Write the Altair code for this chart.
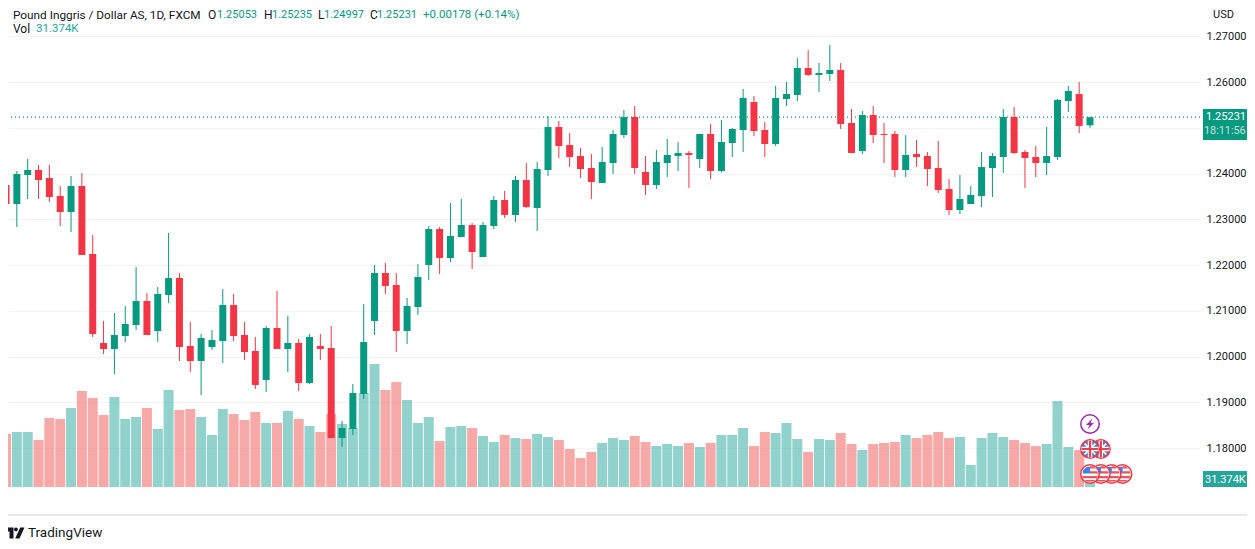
import altair as alt
import pandas as pd

UP = "#089981"
DOWN = "#F23645"
VOL_UP = "#26a69a"
VOL_DOWN = "#ef5350"
FONT = "Roboto"
INK = "#131722"

opens = [1.23749,1.23334,1.23968,1.24077,1.23902,1.23509,1.23159,1.23727,1.22241,1.20296,1.20165,1.20449,1.20689,1.21214,1.20558,1.21345,1.21716,1.20230,1.19902,1.20208,1.20339,1.21126,1.20471,1.20121,1.19487,1.20624,1.20165,1.20296,1.19421,1.20230,
1.20186,1.18219,1.18416,1.19181,1.20777,1.21826,1.21563,1.20558,1.21083,1.22001,1.22788,1.22154,1.22613,1.22875,1.22175,1.22853,1.23421,1.23094,1.23859,1.23247,
1.24077,1.25017,1.24624,1.24383,1.24121,1.23793,1.24230,1.24842,1.25236,1.24033,1.23749,1.24230,1.24383,1.24449,1.24318,1.24864,1.24055,1.24667,1.24951,1.25563,
1.24951,1.24645,1.25629,1.25716,1.26307,1.26154,1.26176,1.26263,1.25104,1.24492,1.25279,1.24864,1.24864,1.24077,1.24427,1.24383,1.24121,1.23662,1.23203,1.23334,
1.23509,1.24121,1.24361,1.25236,1.24471,1.24361,1.24230,1.24361,1.25585,1.25738,1.25053]
highs = [1.24143,1.24055,1.24318,1.24186,1.24186,1.23727,1.23946,1.24012,1.22656,1.20777,1.20951,1.21104,1.21957,1.21389,1.21520,1.22700,1.21826,1.20755,1.20492,1.20580,1.21476,1.21367,1.20755,1.20427,1.20667,1.21432,1.20886,1.20383,1.20492,1.20492,
1.20667,1.18591,1.19400,1.21148,1.22001,1.22044,1.21826,1.21279,1.22022,1.22853,1.22831,1.23356,1.23443,1.22919,1.22941,1.23509,1.23618,1.23946,1.24230,1.24252,
1.25257,1.25148,1.24886,1.24558,1.24427,1.24580,1.24951,1.25389,1.25476,1.24383,1.24514,1.24755,1.24689,1.24492,1.24864,1.25083,1.25170,1.24995,1.25848,1.25695,
1.25126,1.25913,1.26001,1.26525,1.26700,1.26416,1.26809,1.26416,1.25410,1.25367,1.25476,1.25104,1.24930,1.24842,1.24733,1.24471,1.24711,1.23880,1.23968,1.23727,
1.24471,1.24449,1.25410,1.25454,1.24514,1.24602,1.25017,1.25629,1.25913,1.26001,1.25235]
lows = [1.22635,1.22831,1.23443,1.23443,1.23378,1.22853,1.22722,1.22219,1.20427,1.20055,1.19618,1.20318,1.20580,1.20471,1.20318,1.21170,1.19902,1.19662,1.19159,1.20143,1.19859,1.20339,1.19924,1.19290,1.19225,1.20165,1.19662,1.19247,1.19400,1.19924,
1.18219,1.18022,1.18285,1.19072,1.20471,1.21367,1.20099,1.20274,1.20908,1.21673,1.21804,1.22066,1.22613,1.21913,1.22175,1.22788,1.23028,1.22941,1.23247,1.22744,
1.23946,1.24339,1.24143,1.23902,1.23443,1.23793,1.23990,1.24777,1.23990,1.23531,1.23662,1.23924,1.24055,1.23684,1.24121,1.23880,1.24033,1.24361,1.24471,1.24820,
1.24361,1.24602,1.25476,1.25585,1.26132,1.25782,1.26023,1.24973,1.24449,1.24427,1.24667,1.24230,1.23924,1.23924,1.24143,1.23727,1.23574,1.23094,1.23115,1.23334,
1.23268,1.23487,1.24012,1.24427,1.23684,1.23924,1.23968,1.24296,1.25345,1.24886,1.24997]
closes = [1.23334,1.23990,1.24077,1.23859,1.23487,1.23159,1.23727,1.22219,1.20492,1.20165,1.20471,1.20711,1.21214,1.20471,1.21367,1.21716,1.20208,1.19902,1.20405,1.20361,1.21126,1.20449,1.20099,1.19378,1.20624,1.20165,1.20296,1.19421,1.20427,1.20165,
1.18219,1.18438,1.19203,1.20318,1.21826,1.21542,1.20558,1.21104,1.21738,1.22788,1.22154,1.22635,1.22875,1.22285,1.22875,1.23421,1.23094,1.23859,1.23268,1.24099,
1.25017,1.24602,1.24361,1.24099,1.23815,1.24252,1.24864,1.25236,1.24121,1.23749,1.24252,1.24405,1.24449,1.24405,1.24864,1.24055,1.24689,1.24973,1.25651,1.24930,
1.24645,1.25651,1.25738,1.26307,1.26154,1.26197,1.26263,1.25083,1.24449,1.25279,1.24842,1.24842,1.24077,1.24405,1.24361,1.24099,1.23640,1.23203,1.23443,1.23531,
1.24143,1.24383,1.25236,1.24449,1.24339,1.24230,1.24383,1.25607,1.25804,1.25039,1.25231]
volumes_k = [424,440,440,376,552,544,632,768,712,576,720,544,560,632,464,776,616,624,560,416,624,584,536,600,512,512,608,544,488,440,
584,504,472,752,984,776,840,696,512,560,368,480,488,472,408,360,416,392,384,424,400,376,304,232,280,352,392,376,408,360,
328,344,328,352,320,352,416,416,472,328,440,432,512,384,280,384,376,432,344,296,344,352,360,416,392,416,440,392,400,176,
392,432,400,376,352,328,344,688,320,296,31.374]

price_ticks = [1.18,1.19,1.20,1.21,1.22,1.23,1.24,1.25,1.26,1.27]
date_ticks = [6,15,26,35,49,59,69,79,92,104]
date_labels = ["Feb","13","Mar","13","Apr","17","Mei","15","Jun","19"]
month_ticks = [6,26,49,69,92]
last_close = closes[-1]
ticker = "Pound Inggris / Dollar AS, 1D, FXCM"
ohlc_letters = ["O","H","L","C"]
ohlc_values = ["1.25053","1.25235","1.24997","1.25231"]
change_text = "+0.00178 (+0.14%)"
event_lightning = [(100, 1.18525)]
event_uk = [(101, 1.17979), (100, 1.17979)]
event_us = [(103, 1.17432), (102, 1.17432), (101, 1.17432), (100, 1.17432)]

df = pd.DataFrame({"i": range(len(opens)), "open": opens, "high": highs, "low": lows,
                   "close": closes, "vol": volumes_k})

W, H = 1192, 479
x_scale = alt.Scale(domain=[0.1845, 110.148], nice=False, zero=False, padding=0)
price_scale = alt.Scale(domain=[1.17148, 1.27618], nice=False, zero=False)
vol_scale = alt.Scale(domain=[0, 3832], nice=False, zero=True)
X = alt.X("i:Q", scale=x_scale, axis=None)
dir_color = lambda up, down: alt.condition("datum.close >= datum.open", alt.value(up), alt.value(down))
one = alt.Data(values=[{"a": 1}])

label_map = "{" + ",".join(f"{p}:'{l}'" for p, l in zip(date_ticks, date_labels)) + "}"
x_axis = alt.Axis(values=date_ticks, labelExpr=f"{label_map}[datum.value]", title=None, ticks=False,
                  grid=True, gridColor="#f0f3fa", gridWidth=1, domainColor="#e0e3eb", domainWidth=1.5,
                  labelFont=FONT, labelFontSize=12, labelColor=INK, labelPadding=7, labelOverlap=False,
                  labelFontWeight={"condition": {"test": f"indexof({month_ticks}, datum.value) >= 0", "value": 600}, "value": 400})
y_axis = alt.Axis(values=price_ticks, labelExpr="abs(datum.value - 1.25) < 0.001 ? '' : format(datum.value, '.5f')",
                  orient="right", title=None, ticks=False, domain=False,
                  grid=True, gridColor="#f0f3fa", gridWidth=1, labelFont=FONT, labelFontSize=11,
                  labelColor=INK, labelPadding=6, labelOverlap=False)

layers = []
# axes + grid
layers.append(alt.Chart(df).mark_point(opacity=0).encode(
    x=alt.X("i:Q", scale=x_scale, axis=x_axis),
    y=alt.Y("close:Q", scale=price_scale, axis=y_axis)))
# volume
layers.append(alt.Chart(df).mark_bar(size=10, opacity=0.5, clip=True, orient="vertical").encode(
    x=X, y=alt.Y("vol:Q", scale=vol_scale, axis=None), color=dir_color(VOL_UP, VOL_DOWN)))
# last price line
layers.append(alt.Chart(alt.Data(values=[{"p": last_close}])).mark_rule(
    color=UP, strokeDash=[1, 3], strokeWidth=1.3).encode(y=alt.Y("p:Q", scale=price_scale, axis=None)))
# wicks
layers.append(alt.Chart(df).mark_rule(strokeWidth=1, clip=True).encode(
    x=X, y=alt.Y("low:Q", scale=price_scale, axis=None), y2="high:Q", color=dir_color(UP, DOWN)))
# bodies
layers.append(alt.Chart(df).mark_bar(size=7, clip=True, orient="vertical").encode(
    x=X, y=alt.Y("open:Q", scale=price_scale, axis=None), y2="close:Q", color=dir_color(UP, DOWN)))


def icon(ev, shape, size, fill=None, stroke=None, sw=0):
    kw = dict(shape=shape, size=size, filled=fill is not None, opacity=1, strokeWidth=sw)
    if fill:
        kw["fill"] = fill
    if stroke:
        kw["stroke"] = stroke
    else:
        kw["stroke"] = "transparent"
    return alt.Chart(alt.Data(values=[{"i": ev[0], "p": ev[1]}])).mark_point(**kw).encode(
        x=X, y=alt.Y("p:Q", scale=price_scale, axis=None))


RING = "#f23645"
for ev in event_us:
    layers.append(icon(ev, "circle", 340, fill="#ffffff", stroke=RING, sw=1.5))
    layers.append(icon(ev, "M0,-.78H.35L.55,-.55H0Z M0,-.28H.76L.78,-.05H0Z M-.78,.2H.78L.7,.42H-.7Z M-.55,.6H.55L.3,.76H-.3Z", 400, fill="#f0525c"))
    layers.append(icon(ev, "M-.72,-.05V-.35L-.3,-.72H.02V-.05Z", 400, fill="#3b86e8"))
for ev in event_uk:
    layers.append(icon(ev, "circle", 340, fill="#5f78c0", stroke=RING, sw=1.5))
    layers.append(icon(ev, "M-.6,-.48L-.48,-.6L.6,.48L.48,.6Z M.48,-.6L.6,-.48L-.48,.6L-.6,.48Z", 400, fill="#ffffff"))
    layers.append(icon(ev, "M-.22,-.85H.22V-.22H.85V.22H.22V.85H-.22V.22H-.85V-.22H-.22Z", 400, fill="#ffffff"))
    layers.append(icon(ev, "M-.11,-.82H.11V-.11H.82V.11H.11V.82H-.11V.11H-.82V-.11H-.11Z", 400, fill="#e8404c"))
for ev in event_lightning:
    layers.append(icon(ev, "circle", 340, fill="#ffffff", stroke="#9c27b0", sw=1.5))
    layers.append(icon(ev, "M.25,-.55L-.4,.1H-.05L-.25,.55L.4,-.1H.05Z", 400, fill="#9c27b0"))


def pane_rect(x0, x1, y0, y1, color):
    return alt.Chart(one).mark_rect(color=color).encode(
        x=alt.value(x0 - 8), x2=alt.value(x1 - 8), y=alt.value(y0 - 8), y2=alt.value(y1 - 8))


def txt(s, x, y, color=INK, size=12, weight=400, opacity=1.0):
    return alt.Chart(one).mark_text(text=s, align="left", baseline="middle", font=FONT, fontSize=size,
                                    fontWeight=weight, color=color, opacity=opacity).encode(
        x=alt.value(x - 8), y=alt.value(y - 8))


# chart frame rule
layers.append(alt.Chart(one).mark_rule(color="#e8e9ef", strokeWidth=2).encode(
    x=alt.value(0), x2=alt.value(1239), y=alt.value(507)))
# price / volume tags
layers.append(pane_rect(1203, 1247, 109, 140, UP))
layers.append(txt("1.25231", 1206, 117, "#ffffff", 11))
layers.append(txt("18:11:56", 1204, 131, "#ffffff", 10.8, opacity=0.75))
layers.append(pane_rect(1203, 1247, 471, 487, VOL_UP))
layers.append(txt("31.374K", 1205, 480, "#ffffff", 11))
layers.append(txt("USD", 1213, 15, INK, 11))
# header
header_y, vol_y = 15, 29
layers.append(txt(ticker, 13, header_y, size=11.8))
for letter, value, lx, vx in zip(ohlc_letters, ohlc_values, [208, 264, 318, 370], [217, 272, 324, 377]):
    layers.append(txt(letter, lx, header_y))
    layers.append(txt(value, vx, header_y, UP, size=11))
layers.append(txt(change_text, 423, header_y, UP, size=11.5))
layers.append(txt("Vol", 13, vol_y))
layers.append(txt("31.374K", 36, vol_y, VOL_UP, size=11.5))
# attribution
layers.append(alt.Chart(one).mark_point(
    shape="M-.95,-.55H-.15V.55H-.55V-.15H-.95Z M.95,-.55L.45,.55H.02L.52,-.55Z M.1,-.55A.19,.19 0 1 1 .09,-.55Z",
    size=400, filled=True, color=INK, opacity=1).encode(x=alt.value(7), y=alt.value(525)))
layers.append(txt("TradingView", 28, 533, INK, 13.5))

chart = alt.layer(*layers).resolve_scale(y="independent").properties(
    width=W, height=H,
    padding={"left": 0, "top": 0, "right": 47, "bottom": 54},
    autosize=alt.AutoSizeParams(type="none"),
    background="#ffffff",
).configure_view(stroke=None)

chart.save("out.html", embed_options={"renderer": "svg", "actions": False})
